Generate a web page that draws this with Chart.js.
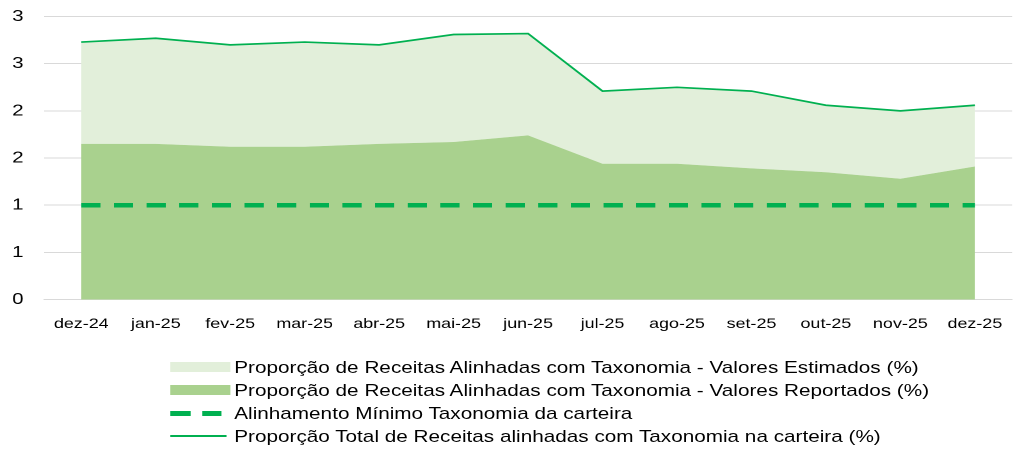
<!DOCTYPE html>
<html>
<head>
<meta charset="utf-8">
<script src="https://cdn.jsdelivr.net/npm/chart.js@4.4.1/dist/chart.umd.min.js"></script>
<style>
  html, body { margin: 0; padding: 0; background: #fff; overflow: hidden; width: 1013px; height: 450px; }
  #wrap { position: absolute; left: 0; top: 0; width: 799px; height: 450px; transform: scaleX(1.28); transform-origin: 0 0; }
  #chart { position: absolute; left: 0; top: -9px; display: block; }
  #legend { position: absolute; left: 0; top: 0; width: 799px; height: 450px; font-family: "Liberation Sans", Arial, sans-serif; font-size: 16.2px; color: #000; }
  .row { position: absolute; left: 133px; height: 20px; line-height: 20px; white-space: nowrap; }
  .mk { position: absolute; left: 0; width: 47px; }
  .txt { position: absolute; left: 50px; top: 0; }
</style>
</head>
<body>
<div id="wrap">
  <canvas id="chart" width="799" height="349" style="width:799px;height:349px"></canvas>
  <div id="legend"></div>
</div>
<script>
const categories = ['dez-24','jan-25','fev-25','mar-25','abr-25','mai-25','jun-25','jul-25','ago-25','set-25','out-25','nov-25','dez-25'];
const totalAligned = [2.73, 2.77, 2.70, 2.73, 2.70, 2.81, 2.82, 2.21, 2.25, 2.21, 2.06, 2.00, 2.06];
const reportedAligned = [1.65, 1.65, 1.62, 1.62, 1.65, 1.67, 1.74, 1.44, 1.44, 1.39, 1.35, 1.28, 1.41];
const minimumAlignment = [1, 1, 1, 1, 1, 1, 1, 1, 1, 1, 1, 1, 1];
const yTickLabels = ['0', '1', '1', '2', '2', '3', '3'];

const labelEstimated = 'Proporção de Receitas Alinhadas com Taxonomia - Valores Estimados (%)';
const labelReported = 'Proporção de Receitas Alinhadas com Taxonomia - Valores Reportados (%)';
const labelMinimum = 'Alinhamento Mínimo Taxonomia da carteira';
const labelTotal = 'Proporção Total de Receitas alinhadas com Taxonomia na carteira (%)';

const FONT = '"Liberation Sans", Arial, sans-serif';
const GREEN = '#00b050';

const chart = new Chart(document.getElementById('chart'), {
  type: 'line',
  data: {
    labels: categories,
    datasets: [
      { label: labelEstimated, data: totalAligned, fill: 1, backgroundColor: '#e2efda',
        borderColor: 'transparent', borderWidth: 0, pointRadius: 0, tension: 0, order: 3, legendKind: 'box' },
      { label: labelReported, data: reportedAligned, fill: 'origin', backgroundColor: '#a9d18e',
        borderColor: 'transparent', borderWidth: 0, pointRadius: 0, tension: 0, order: 2, legendKind: 'box' },
      { label: labelMinimum, data: minimumAlignment, fill: false, borderColor: GREEN, borderWidth: 4.5,
        borderDash: [15, 10.5], borderCapStyle: 'butt', pointRadius: 0, tension: 0, order: 1, legendKind: 'dash' },
      { label: labelTotal, data: totalAligned, fill: false, borderColor: GREEN, borderWidth: 1.7,
        pointRadius: 0, tension: 0, order: 0, legendKind: 'line' }
    ]
  },
  options: {
    responsive: false,
    animation: false,
    devicePixelRatio: 2,
    layout: { padding: { top: 6.4, left: 0, right: 0, bottom: 0 } },
    plugins: { legend: { display: false }, tooltip: { enabled: false } },
    scales: {
      x: {
        type: 'category',
        offset: true,
        grid: { display: false, drawTicks: false },
        border: { display: true, color: '#d9d9d9', width: 1 },
        ticks: { font: { family: FONT, size: 14 }, color: '#000', padding: 16, maxRotation: 0, autoSkip: false },
        afterFit: (s) => { s.height = 40.5; }
      },
      y: {
        min: 0, max: 3,
        grid: { color: '#d9d9d9', lineWidth: 1, drawTicks: false },
        border: { display: false },
        ticks: {
          stepSize: 0.5,
          font: { family: FONT, size: 16 }, color: '#000', padding: 16,
          callback: (v, i) => yTickLabels[i]
        },
        afterFit: (s) => { s.width = 34.4; }
      }
    }
  }
});

// HTML legend built from the chart's datasets
const legendEl = document.getElementById('legend');
const rowCenters = [366.5, 389.5, 413, 436];
chart.data.datasets.forEach((ds, i) => {
  const row = document.createElement('div');
  row.className = 'row';
  row.style.top = (rowCenters[i] - 10) + 'px';
  let mk = '';
  if (ds.legendKind === 'box') {
    mk = `<div class="mk" style="top:5px;height:10px;background:${ds.backgroundColor}"></div>`;
  } else if (ds.legendKind === 'dash') {
    mk = `<div class="mk" style="top:8px;height:4.5px;width:15.5px;background:${ds.borderColor}"></div>` +
         `<div class="mk" style="top:8px;height:4.5px;left:25px;width:15px;background:${ds.borderColor}"></div>`;
  } else {
    mk = `<div class="mk" style="top:9.2px;height:1.6px;width:44px;background:${ds.borderColor}"></div>`;
  }
  row.innerHTML = mk + `<span class="txt">${ds.label}</span>`;
  legendEl.appendChild(row);
});
</script>
</body>
</html>
